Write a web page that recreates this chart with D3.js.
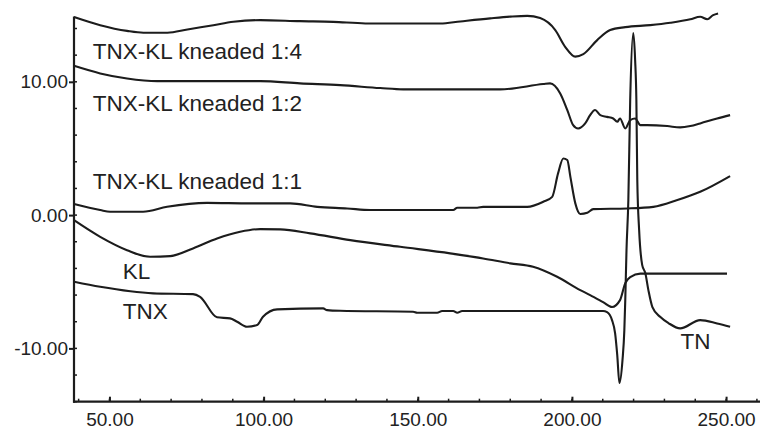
<!DOCTYPE html>
<html>
<head>
<meta charset="utf-8">
<script src="https://cdn.jsdelivr.net/npm/d3@7"></script>
<style>
  html, body { margin: 0; padding: 0; background: #fff; }
  svg { display: block; }
</style>
</head>
<body>
<svg id="chart" width="763" height="432"></svg>
<script>
// Temperature (°C) / heat-flow pairs for each DSC trace
const kneaded14 = [
  [38.5, 14.86], [47.0, 14.25], [55.7, 13.82], [61.0, 13.68], [68.8, 13.68], [75.3, 13.93],
  [83.7, 14.25], [90.2, 14.50], [98.9, 14.63], [111.8, 14.55], [122.6, 14.5], [133.0, 14.38],
  [144.3, 14.37], [157.3, 14.37], [163.8, 14.53], [173.5, 14.76], [180.0, 14.89], [185.5, 14.95],
  [189.7, 14.78], [194.6, 13.88], [197.8, 12.63], [201.1, 11.89], [203.7, 12.08], [208.2, 13.13],
  [212.4, 13.88], [217.3, 14.10], [225.4, 14.25], [231.9, 14.43], [238.4, 14.69], [241.6, 14.88],
  [243.9, 14.69], [245.8, 15.0], [247.4, 15.13]
];
const kneaded12 = [
  [38.5, 11.20], [47.0, 10.63], [55.7, 10.25], [65.5, 10.05], [98.9, 10.05], [111.8, 9.88],
  [124.8, 9.75], [137.8, 9.53], [145.3, 9.43], [176.7, 9.43], [190.7, 9.83], [192.9, 9.88],
  [196.2, 9.13], [198.5, 7.88], [200.4, 6.75], [202.0, 6.50], [204.3, 6.88], [205.9, 7.50],
  [207.5, 7.88], [209.2, 7.50], [211.4, 7.37], [213.4, 7.25], [214.7, 7.00], [215.6, 7.25],
  [217.3, 6.50], [218.9, 7.13], [220.5, 7.25], [222.2, 6.75], [224.4, 6.75], [230.9, 6.68],
  [235.1, 6.58], [238.4, 6.68], [241.6, 6.88], [247.1, 7.25], [251.3, 7.50]
];
const kneaded11 = [
  [38.5, 0.83], [47.0, 0.38], [50.2, 0.25], [60.9, 0.25], [68.7, 0.62], [81.7, 0.92],
  [95.6, 0.88], [108.6, 0.88], [117.4, 0.62], [127.1, 0.50], [134.6, 0.38], [161.5, 0.38],
  [162.8, 0.55], [169.3, 0.55], [171.2, 0.62], [185.5, 0.62], [190.7, 1.00], [193.6, 1.37],
  [195.5, 3.13], [197.2, 4.25], [198.5, 4.13], [199.5, 2.87], [201.1, 0.88], [202.7, 0.08],
  [205.0, 0.17], [206.9, 0.45], [218.0, 0.50], [226.4, 0.62], [234.2, 1.13], [241.6, 1.75],
  [251.3, 2.93]
];
const kl = [
  [38.5, -0.38], [47.0, -1.63], [55.7, -2.63], [63.2, -3.13], [69.7, -3.08], [77.1, -2.50],
  [84.9, -1.75], [92.4, -1.25], [98.9, -1.05], [105.4, -1.07], [115.1, -1.37], [128.1, -1.88],
  [144.3, -2.38], [160.5, -2.87], [171.2, -3.25], [180.0, -3.62], [187.4, -3.88], [195.2, -4.63],
  [202.7, -5.63], [205.9, -6.00], [210.1, -6.53], [213.0, -6.90], [215.6, -6.38], [217.3, -5.10],
  [218.9, -4.65], [222.2, -4.39], [250.3, -4.39]
];
const tnx = [
  [38.5, -5.00], [47.0, -5.38], [64.2, -5.87], [77.1, -5.93], [79.4, -6.13], [84.9, -7.67],
  [89.1, -7.75], [91.4, -8.00], [94.6, -8.38], [97.9, -8.25], [99.8, -7.63], [104.4, -7.07],
  [119.3, -7.00], [120.6, -7.13], [124.8, -7.18], [148.5, -7.25], [149.8, -7.33], [156.3, -7.33],
  [157.9, -7.20], [161.5, -7.20], [162.8, -7.33], [164.4, -7.20], [206.9, -7.20], [210.1, -7.20],
  [211.4, -7.28], [213.0, -7.88], [214.0, -8.85], [214.7, -10.50], [215.4, -12.6], [216.4, -10.88],
  [217.0, -8.63], [217.3, -6.38], [217.7, -2.63], [218.3, 1.13], [218.9, 8.63], [219.9, 13.65],
  [220.5, 11.63], [220.9, 8.63], [221.2, 2.63], [221.8, -1.13], [222.8, -3.75], [223.8, -4.35],
  [224.8, -5.63], [226.1, -6.90], [228.7, -7.65], [231.3, -8.10], [235.1, -8.50], [241.6, -7.88],
  [247.1, -8.13], [251.3, -8.38]
];

const traces = [kneaded14, kneaded12, kneaded11, kl, tnx];

// Trace labels with their anchor points (temperature, heat flow)
const labelTexts = ["TNX-KL kneaded 1:4", "TNX-KL kneaded 1:2", "TNX-KL kneaded 1:1", "KL", "TNX", "TN"];
const labelAt = [[44.6, 11.7], [44.6, 7.8], [44.6, 1.95], [54.3, -4.76], [54.3, -7.83], [235.2, -10.05]];

const xTicks = [50, 100, 150, 200, 250];
const xMinor = d3.range(40, 261, 10);
const yTicks = [-10, 0, 10];
const yMinor = d3.range(-14, 15, 2);

const svg = d3.select("#chart");
const x = d3.scaleLinear().domain([38.5, 261]).range([74, 760]);
const y = d3.scaleLinear().domain([-14, 14.9]).range([401.7, 16.5]);

const ink = "#1c1c1c";
const font = "'Liberation Sans', Arial, Helvetica, sans-serif";
// Two decimals with a plain hyphen-minus
const fmt = d => d.toFixed(2);

// Curves
const line = d3.line()
  .x(d => x(d[0]))
  .y(d => y(d[1]))
  .curve(d3.curveMonotoneX);

svg.append("g")
  .selectAll("path")
  .data(traces)
  .join("path")
  .attr("d", line)
  .attr("fill", "none")
  .attr("stroke", ink)
  .attr("stroke-width", 2.1)
  .attr("stroke-linejoin", "round");

// Labels
svg.append("g")
  .selectAll("text")
  .data(labelTexts)
  .join("text")
  .attr("x", (d, i) => x(labelAt[i][0]))
  .attr("y", (d, i) => y(labelAt[i][1]))
  .attr("font-family", font)
  .attr("font-size", 22.5)
  .attr("fill", "#222")
  .text(d => d);

// Y axis: major ticks outward, minor ticks inward
const yAxis = svg.append("g").attr("transform", `translate(${x.range()[0]},0)`);
yAxis.call(d3.axisLeft(y).tickValues(yTicks).tickFormat(fmt).tickSize(5).tickPadding(1));
yAxis.select(".domain").remove();
yAxis.selectAll(".tick line").attr("stroke", ink).attr("stroke-width", 2);
yAxis.selectAll(".tick text")
  .attr("font-family", font).attr("font-size", 19).attr("fill", "#222");
yAxis.append("g")
  .selectAll("line")
  .data(yMinor)
  .join("line")
  .attr("x1", 0).attr("x2", 3)
  .attr("y1", d => y(d)).attr("y2", d => y(d))
  .attr("stroke", ink).attr("stroke-width", 1.5);
yAxis.append("line")
  .attr("x1", 0).attr("x2", 0)
  .attr("y1", y.range()[1]).attr("y2", y.range()[0] + 1)
  .attr("stroke", ink).attr("stroke-width", 2.2);

// X axis: ticks point into the plot
const xAxis = svg.append("g").attr("transform", `translate(0,${y.range()[0]})`);
xAxis.call(d3.axisBottom(x).tickValues(xTicks).tickFormat(fmt).tickSizeInner(-5).tickSizeOuter(0).tickPadding(6));
xAxis.select(".domain").remove();
xAxis.selectAll(".tick line").attr("stroke", ink).attr("stroke-width", 2);
xAxis.selectAll(".tick text")
  .attr("font-family", font).attr("font-size", 19).attr("fill", "#222")
  .attr("dy", "0.95em");
xAxis.append("g")
  .selectAll("line")
  .data(xMinor)
  .join("line")
  .attr("x1", d => x(d)).attr("x2", d => x(d))
  .attr("y1", 0).attr("y2", -3)
  .attr("stroke", ink).attr("stroke-width", 1.5);
xAxis.append("line")
  .attr("x1", x.range()[0] - 1).attr("x2", x.range()[1])
  .attr("y1", 0).attr("y2", 0)
  .attr("stroke", ink).attr("stroke-width", 2.2);
</script>
</body>
</html>
